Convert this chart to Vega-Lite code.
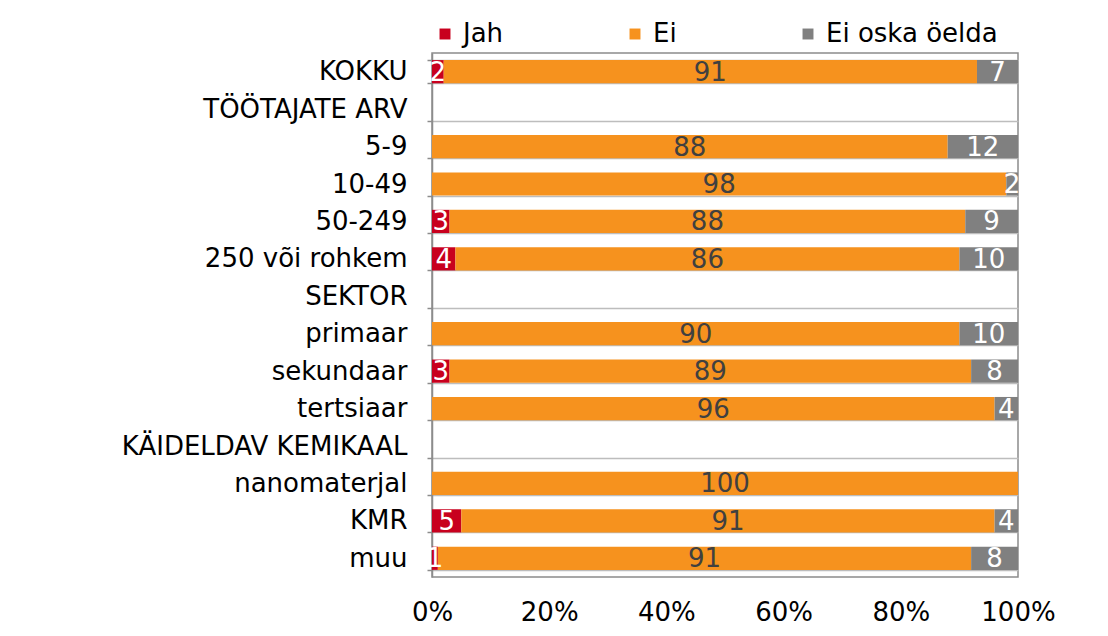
{
  "$schema": "https://vega.github.io/schema/vega-lite/v6.json",
  "autosize": {"type": "none"},
  "width": 586,
  "height": 524,
  "padding": {"left": 432, "top": 53, "right": 90, "bottom": 59},
  "background": "white",
  "config": {
    "font": "DejaVu Sans",
    "view": {"stroke": "#8C8C8C", "strokeWidth": 1.5}
  },
  "data": {
    "values": [
      {"cat": "KOKKU", "answer": "Jah", "order": 1, "value": 2},
      {"cat": "KOKKU", "answer": "Ei", "order": 2, "value": 91},
      {"cat": "KOKKU", "answer": "Ei oska öelda", "order": 3, "value": 7},
      {"cat": "5-9", "answer": "Ei", "order": 2, "value": 88},
      {"cat": "5-9", "answer": "Ei oska öelda", "order": 3, "value": 12},
      {"cat": "10-49 ", "answer": "Ei", "order": 2, "value": 98},
      {"cat": "10-49 ", "answer": "Ei oska öelda", "order": 3, "value": 2},
      {"cat": "50-249", "answer": "Jah", "order": 1, "value": 3},
      {"cat": "50-249", "answer": "Ei", "order": 2, "value": 88},
      {"cat": "50-249", "answer": "Ei oska öelda", "order": 3, "value": 9},
      {"cat": "250 või rohkem", "answer": "Jah", "order": 1, "value": 4},
      {"cat": "250 või rohkem", "answer": "Ei", "order": 2, "value": 86},
      {"cat": "250 või rohkem", "answer": "Ei oska öelda", "order": 3, "value": 10},
      {"cat": "primaar", "answer": "Ei", "order": 2, "value": 90},
      {"cat": "primaar", "answer": "Ei oska öelda", "order": 3, "value": 10},
      {"cat": "sekundaar", "answer": "Jah", "order": 1, "value": 3},
      {"cat": "sekundaar", "answer": "Ei", "order": 2, "value": 89},
      {"cat": "sekundaar", "answer": "Ei oska öelda", "order": 3, "value": 8},
      {"cat": "tertsiaar", "answer": "Ei", "order": 2, "value": 96},
      {"cat": "tertsiaar", "answer": "Ei oska öelda", "order": 3, "value": 4},
      {"cat": "nanomaterjal", "answer": "Ei", "order": 2, "value": 100},
      {"cat": "KMR", "answer": "Jah", "order": 1, "value": 5},
      {"cat": "KMR", "answer": "Ei", "order": 2, "value": 91},
      {"cat": "KMR", "answer": "Ei oska öelda", "order": 3, "value": 4},
      {"cat": "muu", "answer": "Jah", "order": 1, "value": 1},
      {"cat": "muu", "answer": "Ei", "order": 2, "value": 91},
      {"cat": "muu", "answer": "Ei oska öelda", "order": 3, "value": 8}
    ]
  },
  "transform": [
    {"stack": "value", "groupby": ["cat"], "sort": [{"field": "order"}], "as": ["v0", "v1"], "offset": "normalize"},
    {"calculate": "(datum.v0 + datum.v1) / 2", "as": "mid"}
  ],
  "encoding": {
    "y": {
      "field": "cat",
      "type": "nominal",
      "sort": null,
      "scale": {
        "domain": ["KOKKU", "TÖÖTAJATE ARV", "5-9", "10-49 ", "50-249", "250 või rohkem", "SEKTOR", "primaar", "sekundaar", "tertsiaar", "KÄIDELDAV KEMIKAAL", "nanomaterjal", "KMR", "muu"],
        "paddingInner": 0.38,
        "paddingOuter": 0.19
      },
      "axis": {
        "title": null,
        "labelExpr": "datum.value == '10-49 ' ? '10-49\u00a0' : datum.value",
        "labelFont": "DejaVu Sans",
        "labelFontSize": 26,
        "labelColor": "#000000",
        "labelPadding": 20,
        "labelLimit": 420,
        "tickBand": "extent",
        "tickSize": 5,
        "tickColor": "#8C8C8C",
        "tickWidth": 1.5,
        "domainColor": "#8C8C8C",
        "domainWidth": 1.5,
        "grid": true,
        "gridColor": "#BDBDBD",
        "gridWidth": 1.5
      }
    }
  },
  "layer": [
    {
      "mark": {"type": "bar"},
      "encoding": {
        "x": {
          "field": "v0",
          "type": "quantitative",
          "scale": {"domain": [0, 1], "nice": false},
          "axis": {
            "title": null,
            "format": ".0%",
            "values": [0, 0.2, 0.4, 0.6, 0.8, 1],
            "grid": false,
            "domain": false,
            "ticks": false,
            "labelFont": "DejaVu Sans",
            "labelFontSize": 26,
            "labelColor": "#000000",
            "labelPadding": 22,
            "labelFlush": false
          }
        },
        "x2": {"field": "v1"},
        "color": {
          "field": "answer",
          "type": "nominal",
          "sort": ["Jah", "Ei", "Ei oska öelda"],
          "scale": {"domain": ["Jah", "Ei", "Ei oska öelda"], "range": ["#C8001E", "#F6921E", "#808080"]},
          "legend": {
            "title": null,
            "orient": "top",
            "direction": "horizontal",
            "symbolType": "square",
            "symbolSize": 120,
            "symbolStrokeWidth": 0,
            "labelFont": "DejaVu Sans",
            "labelFontSize": 26,
            "labelColor": "#000000",
            "labelOffset": 5,
            "labelLimit": 300,
            "columnPadding": 118,
            "offset": 6
          }
        }
      }
    },
    {
      "mark": {"type": "text", "fontSize": 26, "font": "DejaVu Sans", "baseline": "middle", "dy": 1},
      "encoding": {
        "x": {"field": "mid", "type": "quantitative"},
        "text": {"field": "value", "type": "quantitative"},
        "color": {
          "condition": {"test": "datum.answer == 'Ei'", "value": "#404040"},
          "value": "#FFFFFF"
        }
      }
    }
  ]
}
